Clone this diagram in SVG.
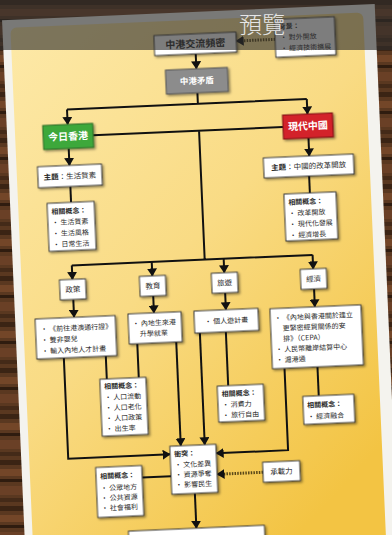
<svg xmlns="http://www.w3.org/2000/svg" width="392" height="535" viewBox="0 0 392 535">
<defs>
<pattern id="wood" patternUnits="userSpaceOnUse" width="400" height="46">
<rect width="400" height="46" fill="#5a3820"/>
<rect y="0" width="400" height="5" fill="#3b2414"/>
<rect y="9" width="400" height="7" fill="#734628"/>
<rect y="19" width="400" height="3" fill="#2f1c0f"/>
<rect y="26" width="400" height="9" fill="#6a4026"/>
<rect y="38" width="400" height="4" fill="#442a18"/>
</pattern>
<linearGradient id="yel" x1="0" y1="0" x2="0.6" y2="1">
<stop offset="0" stop-color="#fde9a8"/>
<stop offset="0.5" stop-color="#f9db84"/>
<stop offset="1" stop-color="#f3c443"/>
</linearGradient>
<filter id="sh" x="-20%" y="-20%" width="140%" height="150%">
<feDropShadow dx="1.5" dy="1.5" stdDeviation="0.8" flood-color="#000" flood-opacity="0.45"/>
</filter>
<marker id="ah" viewBox="0 0 8 10" refX="7.5" refY="5" markerWidth="8" markerHeight="10" markerUnits="userSpaceOnUse" orient="auto">
<path d="M0,0 L8,5 L0,10 z" fill="#111"/>
</marker>
<style>
.box{fill:#fff;stroke:#3a3a3a;stroke-width:1;filter:url(#sh)}
.t{font-family:"Noto Sans CJK TC","Noto Sans CJK SC",sans-serif;font-size:7px;fill:#2a2a2a}
.b{font-weight:bold}
.c{text-anchor:middle}
.w{fill:#fff;font-weight:bold}
.ln{fill:none;stroke:#111;stroke-width:2}
.ar{marker-end:url(#ah)}
.dot{fill:none;stroke:#5a4818;stroke-width:3;stroke-dasharray:1.5 1.2;marker-end:url(#ah)}
</style>
</defs>
<rect width="392" height="535" fill="url(#wood)"/>
<g transform="rotate(-2.5 196 267)">
<rect x="13" y="12" width="373" height="580" fill="#f4f3ee"/>
<rect x="21" y="20" width="353" height="570" rx="6" fill="url(#yel)"/>

<g id="connectors">
<path class="dot" d="M285,43 H246"/>
<path class="ln ar" d="M205,54 V69"/>
<path class="ln" d="M205,93 V104 M74,104 H314"/>
<path class="ln ar" d="M74,104 V119"/>
<path class="ln ar" d="M314,104 V119"/>
<path class="ln" d="M99,131 H289 M205,131 V260 M72,260 H313"/>
<path class="ln ar" d="M72,260 V274"/>
<path class="ln ar" d="M152,260 V274"/>
<path class="ln ar" d="M224,260 V274"/>
<path class="ln ar" d="M313,260 V274"/>
<path class="ln ar" d="M74,143 V160"/>
<path class="ln" d="M74,181 V197"/>
<path class="ln ar" d="M314,143 V161"/>
<path class="ln" d="M313,181 V198"/>
<path class="ln ar" d="M72,294 V312"/>
<path class="ln ar" d="M152,294 V311"/>
<path class="ln ar" d="M224,294 V311"/>
<path class="ln ar" d="M313,294 V312"/>
<path class="ln ar" d="M60,352 V453 H162"/>
<path class="ln" d="M102,352 V375 M134,341 V375"/>
<path class="ln ar" d="M173,341 V445"/>
<path class="ln ar" d="M197,333 V445"/>
<path class="ln" d="M223,333 V387"/>
<path class="ln ar" d="M280,372 V454 H208"/>
<path class="ln" d="M313,372 V401"/>
<path class="dot" d="M254,475 H208"/>
<path class="ln" d="M133,475 H162"/>
<path class="ln ar" d="M185,493 V528"/>
</g>

<g id="n1"><rect class="box" x="164" y="34" width="82" height="20"/><text class="t b c" x="205" y="47.5" style="font-size:10px">中港交流頻密</text></g>
<g id="n2"><rect class="box" x="285" y="23" width="60" height="38"/>
<text class="t b" x="289" y="33">背景：</text>
<text class="t" x="290" y="44">• 對外開放</text>
<text class="t" x="290" y="55">• 經濟技術擴展</text></g>
<g id="n3"><rect x="174" y="69" width="62" height="24" fill="#8c8c8c" stroke="#555" stroke-width="1" filter="url(#sh)"/><text class="t w c" x="205" y="84" style="font-size:8.5px">中港矛盾</text></g>
<g id="n4"><rect x="49" y="119" width="50" height="24" fill="#3ea83a" stroke="#2f6a26" stroke-width="1" filter="url(#sh)"/><text class="t w c" x="74" y="134.5" style="font-size:10px">今日香港</text></g>
<g id="n5"><rect x="289" y="119" width="50" height="24" fill="#d3212b" stroke="#7a1015" stroke-width="1" filter="url(#sh)"/><text class="t w c" x="314" y="134.5" style="font-size:10px">現代中國</text></g>
<g id="n6"><rect class="box" x="42" y="160" width="64" height="21"/><text class="t c" x="74" y="173.5" style="font-size:7.5px"><tspan class="b">主題</tspan>：生活質素</text></g>
<g id="n7"><rect class="box" x="50" y="197" width="47" height="48"/>
<text class="t b" x="54" y="208">相關概念：</text>
<text class="t" x="54" y="219">• 生活質素</text>
<text class="t" x="54" y="230">• 生活風格</text>
<text class="t" x="54" y="241">• 日常生活</text></g>
<g id="n8"><rect class="box" x="268" y="161" width="90" height="20"/><text class="t c" x="313" y="173.8" style="font-size:7.5px"><tspan class="b">主題</tspan>：中國的改革開放</text></g>
<g id="n9"><rect class="box" x="287" y="198" width="52" height="47"/>
<text class="t b" x="291" y="209">相關概念：</text>
<text class="t" x="291" y="220">• 改革開放</text>
<text class="t" x="291" y="231">• 現代化發展</text>
<text class="t" x="291" y="242">• 經濟增長</text></g>
<g id="n10"><rect class="box" x="59" y="274" width="26" height="20"/><text class="t c" x="72" y="286.7" style="font-size:7.5px">政策</text></g>
<g id="n11"><rect class="box" x="139" y="274" width="26" height="20"/><text class="t c" x="152" y="286.7" style="font-size:7.5px">教育</text></g>
<g id="n12"><rect class="box" x="211" y="274" width="26" height="20"/><text class="t c" x="224" y="286.7" style="font-size:7.5px">旅遊</text></g>
<g id="n13"><rect class="box" x="300" y="274" width="26" height="20"/><text class="t c" x="313" y="286.7" style="font-size:7.5px">經濟</text></g>
<g id="n14"><rect class="box" x="33" y="312" width="80" height="40"/>
<text class="t" x="38" y="325">• 《前往港澳通行證》</text>
<text class="t" x="38" y="336">• 雙非嬰兒</text>
<text class="t" x="38" y="347">• 輸入內地人才計畫</text></g>
<g id="n15"><rect class="box" x="126" y="311" width="53" height="30"/>
<text class="t" x="130" y="323.5">• 內地生來港</text>
<text class="t" x="137" y="334">升學就業</text></g>
<g id="n16"><rect class="box" x="192" y="311" width="64" height="22"/><text class="t c" x="224" y="324.5">• 個人遊計畫</text></g>
<g id="n17"><rect class="box" x="268" y="312" width="91" height="60"/>
<text class="t" x="272" y="324">• 《內地與香港關於建立</text>
<text class="t" x="280" y="334.5">更緊密經貿關係的安</text>
<text class="t" x="280" y="345">排》（CEPA）</text>
<text class="t" x="272" y="355.5">• 人民幣離岸結算中心</text>
<text class="t" x="272" y="366">• 滬港通</text></g>
<g id="n18"><rect class="box" x="95" y="375" width="46" height="57"/>
<text class="t b" x="99" y="385">相關概念：</text>
<text class="t" x="99" y="396">• 人口流動</text>
<text class="t" x="99" y="406.5">• 人口老化</text>
<text class="t" x="99" y="417">• 人口政策</text>
<text class="t" x="99" y="427.5">• 出生率</text></g>
<g id="n19"><rect class="box" x="212" y="387" width="46" height="36"/>
<text class="t b" x="216" y="397.5">相關概念：</text>
<text class="t" x="216" y="408.5">• 消費力</text>
<text class="t" x="216" y="419">• 旅行自由</text></g>
<g id="n20"><rect class="box" x="297" y="401" width="51" height="28"/>
<text class="t b" x="301" y="412.5">相關概念：</text>
<text class="t" x="301" y="424">• 經濟融合</text></g>
<g id="n21"><rect class="box" x="162" y="445" width="46" height="48"/>
<text class="t b" x="166" y="455.5">衝突：</text>
<text class="t" x="166" y="466.5">• 文化差異</text>
<text class="t" x="166" y="476.5">• 資源爭奪</text>
<text class="t" x="166" y="486.5">• 影響民生</text></g>
<g id="n22"><rect class="box" x="254" y="465" width="37" height="20"/><text class="t c" x="272.5" y="477.7" style="font-size:7.5px">承載力</text></g>
<g id="n23"><rect class="box" x="87" y="463" width="46" height="50"/>
<text class="t b" x="91" y="474.5">相關概念：</text>
<text class="t" x="91" y="486.5">• 公眾地方</text>
<text class="t" x="91" y="496.5">• 公共資源</text>
<text class="t" x="91" y="506.5">• 社會福利</text></g>
<g id="n24"><rect class="box" x="117" y="528" width="136" height="40"/></g>
</g>
<rect x="0" y="0" width="392" height="50" fill="#2d2d2d" fill-opacity="0.62"/>
<text x="262" y="33" text-anchor="middle" font-family="'Noto Sans CJK TC','Noto Sans CJK SC',sans-serif" font-size="23" font-weight="300" fill="#e6e6e6">預覽</text>
</svg>
